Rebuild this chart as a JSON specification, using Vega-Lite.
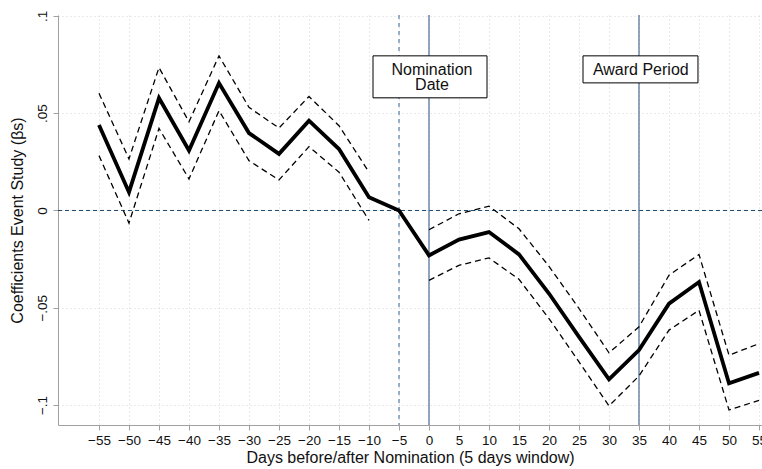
{
  "$schema": "https://vega.github.io/schema/vega-lite/v6.json",
  "autosize": {"type": "none"},
  "width": 704,
  "height": 410,
  "padding": {"left": 58, "top": 15, "right": 0, "bottom": 44},
  "background": "white",
  "config": {
    "view": {"stroke": null},
    "font": "Liberation Sans",
    "axis": {
      "domainColor": "#a0a0a0",
      "tickColor": "#a0a0a0",
      "tickSize": 5,
      "gridColor": "#d4d4d4",
      "gridDash": [1, 3],
      "gridWidth": 1,
      "labelColor": "#111",
      "titleColor": "#111",
      "labelFont": "Liberation Sans",
      "titleFont": "Liberation Sans",
      "titleFontWeight": "normal",
      "labelFontSize": 13.5,
      "titleFontSize": 16,
      "labelOverlap": false
    }
  },
  "datasets": {
    "est": [
      {"day": -55, "b": 0.0439, "lo": 0.0282, "hi": 0.0603, "period": "pre"},
      {"day": -50, "b": 0.0094, "lo": -0.0065, "hi": 0.0265, "period": "pre"},
      {"day": -45, "b": 0.0578, "lo": 0.0422, "hi": 0.0735, "period": "pre"},
      {"day": -40, "b": 0.0308, "lo": 0.0162, "hi": 0.0456, "period": "pre"},
      {"day": -35, "b": 0.0655, "lo": 0.0513, "hi": 0.0795, "period": "pre"},
      {"day": -30, "b": 0.0398, "lo": 0.0256, "hi": 0.0530, "period": "pre"},
      {"day": -25, "b": 0.0291, "lo": 0.0157, "hi": 0.0424, "period": "pre"},
      {"day": -20, "b": 0.0462, "lo": 0.0328, "hi": 0.0586, "period": "pre"},
      {"day": -15, "b": 0.0316, "lo": 0.0197, "hi": 0.0436, "period": "pre"},
      {"day": -10, "b": 0.0068, "lo": -0.0051, "hi": 0.0197, "period": "pre"},
      {"day": -5, "b": 0.0, "lo": null, "hi": null, "period": "ref"},
      {"day": 0, "b": -0.0231, "lo": -0.0359, "hi": -0.0099, "period": "post"},
      {"day": 5, "b": -0.0150, "lo": -0.0282, "hi": -0.0017, "period": "post"},
      {"day": 10, "b": -0.0111, "lo": -0.0244, "hi": 0.0022, "period": "post"},
      {"day": 15, "b": -0.0226, "lo": -0.0354, "hi": -0.0094, "period": "post"},
      {"day": 20, "b": -0.0427, "lo": -0.0556, "hi": -0.0287, "period": "post"},
      {"day": 25, "b": -0.0650, "lo": -0.0778, "hi": -0.0504, "period": "post"},
      {"day": 30, "b": -0.0868, "lo": -0.1005, "hi": -0.0732, "period": "post"},
      {"day": 35, "b": -0.0718, "lo": -0.0851, "hi": -0.0598, "period": "post"},
      {"day": 40, "b": -0.0479, "lo": -0.0615, "hi": -0.0333, "period": "post"},
      {"day": 45, "b": -0.0368, "lo": -0.0513, "hi": -0.0226, "period": "post"},
      {"day": 50, "b": -0.0889, "lo": -0.1026, "hi": -0.0744, "period": "post"},
      {"day": 55, "b": -0.0835, "lo": -0.0976, "hi": -0.0685, "period": "post"}
    ],
    "notes": [
      {"label": "Nomination\nDate", "x1": -9.33, "x2": 9.67, "y1": 0.0795, "y2": 0.0579, "tx": 0.5, "ty": 0.0697},
      {"label": "Award Period", "x1": 25.67, "x2": 44.83, "y1": 0.0795, "y2": 0.0656, "tx": 35.3, "ty": 0.0697}
    ]
  },
  "encoding": {
    "x": {
      "field": "day", "type": "quantitative",
      "scale": {"domain": [-61.83, 55.5], "nice": false, "zero": false},
      "axis": {
        "values": [-55, -50, -45, -40, -35, -30, -25, -20, -15, -10, -5, 0, 5, 10, 15, 20, 25, 30, 35, 40, 45, 50, 55],
        "title": "Days before/after Nomination (5 days window)",
        "labelPadding": 3,
        "titlePadding": 3,
        "grid": true,
        "labelOverlap": false,
        "labelBound": false,
        "labelFlush": false
      }
    },
    "y": {
      "field": "b", "type": "quantitative",
      "scale": {"domain": [-0.1103, 0.1005], "nice": false, "zero": false},
      "axis": {
        "values": [-0.1, -0.05, 0, 0.05, 0.1],
        "labelExpr": "datum.value == 0 ? '0' : replace(format(datum.value, '.2~f'), '0.', '.')",
        "labelAngle": -90,
        "labelAlign": "center",
        "labelBaseline": "bottom",
        "labelPadding": 4,
        "title": "Coefficients Event Study (βs)",
        "titlePadding": 10,
        "grid": true,
        "labelOverlap": false
      }
    }
  },
  "layer": [
    {
      "data": {"values": [{"b": 0}]},
      "mark": {"type": "rule", "color": "#1a476f", "strokeDash": [4, 3], "strokeWidth": 1},
      "encoding": {"x": null}
    },
    {
      "data": {"values": [{"day": -5}]},
      "mark": {"type": "rule", "color": "#5b7fa6", "strokeDash": [4, 4], "strokeWidth": 1.2},
      "encoding": {"y": null}
    },
    {
      "data": {"values": [{"day": 0}, {"day": 35}]},
      "mark": {"type": "rule", "color": "#4a6c94", "strokeWidth": 1.2},
      "encoding": {"y": null}
    },
    {
      "data": {"name": "est"},
      "transform": [
        {"filter": "isValid(datum.lo)"},
        {"fold": ["lo", "hi"], "as": ["bound", "val"]}
      ],
      "mark": {"type": "line", "color": "black", "strokeWidth": 1.3, "strokeDash": [6, 4]},
      "encoding": {
        "y": {"field": "val", "type": "quantitative"},
        "detail": [{"field": "bound"}, {"field": "period"}]
      }
    },
    {
      "data": {"name": "est"},
      "mark": {"type": "line", "color": "black", "strokeWidth": 3.8, "strokeJoin": "miter"}
    },
    {
      "data": {"name": "notes"},
      "mark": {"type": "rect", "fill": "#444", "xOffset": 1.5, "yOffset": 1.5},
      "encoding": {
        "x": {"field": "x1", "type": "quantitative"},
        "x2": {"field": "x2"},
        "y": {"field": "y1", "type": "quantitative"},
        "y2": {"field": "y2"}
      }
    },
    {
      "data": {"name": "notes"},
      "mark": {"type": "rect", "fill": "white", "stroke": "black", "strokeWidth": 1},
      "encoding": {
        "x": {"field": "x1", "type": "quantitative"},
        "x2": {"field": "x2"},
        "y": {"field": "y1", "type": "quantitative"},
        "y2": {"field": "y2"}
      }
    },
    {
      "data": {"name": "notes"},
      "mark": {"type": "text", "fontSize": 16, "font": "Liberation Sans", "align": "center", "baseline": "alphabetic", "lineBreak": "\n", "lineHeight": 15.5, "color": "#111"},
      "encoding": {
        "x": {"field": "tx", "type": "quantitative"},
        "y": {"field": "ty", "type": "quantitative"},
        "text": {"field": "label"}
      }
    }
  ]
}
